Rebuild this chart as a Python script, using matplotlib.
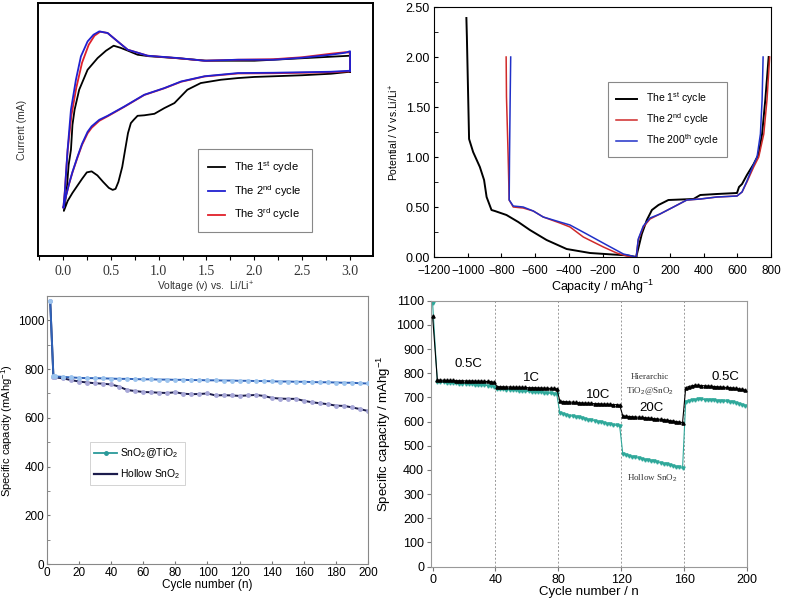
import matplotlib
matplotlib.use("Agg")
import matplotlib.pyplot as plt
from matplotlib.lines import Line2D
from matplotlib.ticker import MultipleLocator

plt.rcParams['font.family'] = ['Liberation Sans', 'DejaVu Sans']
plt.rcParams['mathtext.fontset'] = 'custom'
plt.rcParams['mathtext.rm'] = 'Liberation Sans'
plt.rcParams['mathtext.it'] = 'Liberation Sans:italic'

# ---- panel a : cyclic voltammetry (arbitrary current units) ----
v1 = [3.0, 2.8, 2.5, 2.0, 1.83, 1.65, 1.44, 1.3, 1.165, 1.06, 0.956, 0.85, 0.78, 0.74,
      0.71, 0.68, 0.65, 0.62, 0.58, 0.55, 0.52, 0.48, 0.42, 0.36, 0.3, 0.25, 0.2, 0.15,
      0.1, 0.05, 0.01,
      0.04, 0.06, 0.084, 0.1, 0.122, 0.17, 0.258, 0.363, 0.45, 0.53, 0.6, 0.68, 0.78,
      0.9, 1.2, 1.5, 2.0, 2.5, 2.9, 3.0, 3.0]
i1 = [0.78, 0.76, 0.745, 0.728, 0.717, 0.70, 0.667, 0.60, 0.467, 0.417, 0.36, 0.345,
      0.34, 0.30, 0.267, 0.167, 0.0, -0.17, -0.32, -0.39, -0.40, -0.38, -0.32, -0.255,
      -0.215, -0.225, -0.29, -0.36, -0.43, -0.51, -0.61,
      -0.40, -0.15, 0.0, 0.25, 0.4, 0.6, 0.8, 0.917, 0.99, 1.04, 1.02, 0.99, 0.95,
      0.935, 0.915, 0.89, 0.89, 0.915, 0.935, 0.94, 0.78]
v2 = [3.0, 2.8, 2.5, 2.2, 1.83, 1.48, 1.235, 1.06, 0.85, 0.642, 0.467, 0.38, 0.3,
      0.258, 0.2, 0.153, 0.1, 0.066, 0.03, 0.005,
      0.02, 0.035, 0.049, 0.084, 0.136, 0.188, 0.258, 0.32, 0.38, 0.467, 0.572, 0.677,
      0.886, 1.2, 1.48, 1.83, 2.2, 2.5, 2.8, 2.95, 3.0, 3.0]
i2 = [0.79, 0.78, 0.775, 0.77, 0.767, 0.735, 0.683, 0.617, 0.55, 0.433, 0.34, 0.30,
      0.235, 0.18, 0.06, -0.067, -0.22, -0.333, -0.47, -0.58,
      -0.42, -0.2, 0.0, 0.4, 0.7, 0.933, 1.083, 1.15, 1.183, 1.167, 1.083, 1.0,
      0.94, 0.917, 0.89, 0.9, 0.9, 0.92, 0.95, 0.97, 0.985, 0.79]
v3 = [3.0, 2.8, 2.5, 2.2, 1.83, 1.48, 1.235, 1.06, 0.85, 0.642, 0.467, 0.38, 0.3,
      0.258, 0.2, 0.153, 0.1, 0.066, 0.03, 0.005,
      0.02, 0.035, 0.05, 0.09, 0.14, 0.2, 0.27, 0.33, 0.39, 0.467, 0.572, 0.677,
      0.886, 1.2, 1.48, 1.83, 2.2, 2.5, 2.8, 2.95, 3.0, 3.0]
i3 = [0.785, 0.775, 0.77, 0.765, 0.763, 0.733, 0.68, 0.615, 0.548, 0.43, 0.335, 0.29,
      0.22, 0.165, 0.05, -0.075, -0.225, -0.335, -0.47, -0.58,
      -0.42, -0.2, 0.0, 0.35, 0.62, 0.87, 1.05, 1.14, 1.18, 1.167, 1.083, 1.0,
      0.94, 0.915, 0.89, 0.9, 0.905, 0.925, 0.96, 0.975, 0.97, 0.785]

# ---- panel b : charge / discharge profiles ----
cap_1d = [-1008, -1005, -992, -968, -928, -903, -888, -859, -839, -770, -700, -631,
          -532, -413, -274, -140, -56, 0]
pot_1d = [2.39, 2.2, 1.18, 1.05, 0.90, 0.77, 0.60, 0.47, 0.46, 0.42, 0.35, 0.27,
          0.17, 0.08, 0.04, 0.025, 0.017, 0.0]
cap_1c = [0, 33, 63, 93, 132, 191, 340, 380, 479, 598, 610, 628, 657, 697, 727, 747,
          766, 786]
pot_1c = [0.0, 0.23, 0.37, 0.47, 0.52, 0.57, 0.58, 0.62, 0.63, 0.64, 0.70, 0.73,
          0.82, 0.93, 1.03, 1.23, 1.57, 2.0]
cap_2d = [-772, -770, -760, -754, -730, -671, -611, -552, -453, -393, -314, -195,
          -116, -56, 0]
pot_2d = [2.0, 1.6, 1.0, 0.57, 0.50, 0.49, 0.46, 0.40, 0.34, 0.30, 0.20, 0.10,
          0.04, 0.01, 0.0]
cap_2c = [0, 12, 42, 82, 141, 221, 300, 380, 479, 598, 628, 657, 697, 727, 757, 776,
          792]
pot_2c = [0.0, 0.17, 0.30, 0.38, 0.43, 0.50, 0.57, 0.58, 0.60, 0.61, 0.65, 0.75,
          0.90, 1.00, 1.23, 1.57, 2.0]
cap_200d = [-745, -748, -752, -754, -730, -671, -611, -552, -453, -393, -294, -175,
            -76, 0]
pot_200d = [2.0, 1.6, 1.0, 0.57, 0.51, 0.50, 0.46, 0.40, 0.35, 0.32, 0.23, 0.12,
            0.03, 0.0]
cap_200c = [0, 12, 42, 82, 141, 221, 300, 380, 479, 598, 628, 657, 690, 717, 737,
            747, 753]
pot_200c = [0.0, 0.18, 0.31, 0.39, 0.43, 0.50, 0.57, 0.58, 0.60, 0.61, 0.65, 0.76,
            0.90, 1.00, 1.23, 1.57, 2.0]

# ---- panel c : cycling stability ----
cyc_c = [2, 4, 5, 10, 15, 20, 25, 30, 35, 40, 45, 50, 55, 60, 65, 70, 75, 80, 85, 90,
         95, 100, 105, 110, 115, 120, 125, 130, 135, 140, 145, 150, 155, 160, 165,
         170, 175, 180, 185, 190, 195, 200]
core_shell = [1080, 772, 770, 768, 766, 764, 763, 763, 762, 761, 760, 760, 759, 758,
              758, 757, 757, 756, 756, 755, 755, 754, 754, 753, 753, 752, 752, 751,
              751, 750, 749, 749, 748, 748, 747, 746, 746, 745, 744, 744, 742, 741]
hollow = [1080, 768, 766, 762, 755, 749, 745, 742, 740, 737, 728, 714, 710, 706, 705,
          703, 702, 705, 699, 697, 698, 700, 692, 693, 692, 690, 692, 694, 690, 682,
          679, 678, 678, 670, 664, 660, 656, 650, 649, 643, 636, 628]

# ---- panel d : rate capability ----
cyc_d = [0] + list(range(3, 40, 2)) + list(range(41, 200, 2))
hier = [1035,
        772, 771, 771, 770, 770, 770, 769, 769, 769, 768, 768, 768, 767, 767, 767, 766,
        766, 765, 762,
        745, 744, 744, 743, 743, 742, 742, 742, 741, 741, 740, 740, 740, 739, 739, 738,
        738, 737, 737, 735,
        684, 683, 682, 681, 680, 679, 678, 677, 676, 676, 675, 674, 674, 673, 672, 672,
        671, 670, 670, 668,
        623, 622, 621, 620, 619, 618, 617, 616, 615, 613, 612, 611, 609, 608, 606, 604,
        602, 600, 598, 596,
        740, 745, 748, 750, 750, 749, 748, 747, 746, 745, 744, 743, 742, 741, 740, 739,
        737, 735, 733, 730]
hollow_d = [1090,
            765, 763, 762, 761, 760, 759, 758, 757, 757, 756, 755, 754, 753, 752, 751,
            750, 749, 748, 745,
            735, 734, 733, 732, 731, 730, 729, 728, 727, 726, 725, 724, 723, 722, 721,
            720, 718, 717, 715, 712,
            634, 631, 628, 625, 622, 620, 617, 614, 611, 608, 606, 603, 600, 598, 595,
            592, 589, 587, 584, 581,
            466, 462, 458, 455, 452, 449, 446, 443, 441, 438, 435, 432, 429, 426, 423,
            420, 417, 414, 411, 407,
            683, 686, 689, 691, 692, 692, 691, 690, 689, 688, 687, 686, 685, 684, 683,
            681, 678, 674, 670, 666]
rate_x = [22.7, 63, 105.5, 139.5, 186]
rate_y = [838, 782, 710, 655, 786]
rate_txt = ['0.5C', '1C', '10C', '20C', '0.5C']

fig = plt.figure(figsize=(7.87, 6.04), dpi=100)

# panel a
ax1 = fig.add_axes([0.0483, 0.5762, 0.4257, 0.4189])
ax1.plot(v1, i1, color='black', lw=1.3, label='The 1$^{\\mathrm{st}}$ cycle')
ax1.plot(v3, i3, color='#e0202a', lw=1.3, label='The 3$^{\\mathrm{rd}}$ cycle')
ax1.plot(v2, i2, color='#2020d0', lw=1.3, label='The 2$^{\\mathrm{nd}}$ cycle')
ax1.set_xlim(-0.26, 3.24)
ax1.set_ylim(-1.06, 1.467)
ax1.set_yticks([])
ax1.xaxis.set_major_locator(MultipleLocator(0.5))
ax1.xaxis.set_minor_locator(MultipleLocator(0.25))
ax1.xaxis.set_major_formatter(matplotlib.ticker.FormatStrFormatter('%.1f'))
ax1.tick_params(axis='x', which='both', direction='out', length=3, width=0.8,
                labelcolor='#333333')
for lab in ax1.get_xticklabels():
    lab.set_fontfamily('Liberation Serif')
    lab.set_fontsize(10)
for s in ax1.spines.values():
    s.set_linewidth(1.4)
ax1.set_xlabel('Voltage (v) vs.  Li/Li$^{+}$', fontsize=7.5, color='#333333', labelpad=1)
ax1.set_ylabel('Current (mA)', fontsize=7.5, color='#333333', labelpad=8)
h, l = ax1.get_legend_handles_labels()
leg1 = ax1.legend([h[0], h[2], h[1]], [l[0], l[2], l[1]], loc='upper left',
                  bbox_to_anchor=(0.46, 0.443), fontsize=8, fancybox=False,
                  edgecolor='#888888', framealpha=1, handlelength=1.6,
                  borderpad=0.9, labelspacing=0.7)
leg1.get_frame().set_linewidth(0.8)

# panel b
ax2 = fig.add_axes([0.5515, 0.5745, 0.4282, 0.4139])
ax2.plot(cap_1d, pot_1d, color='black', lw=1.4, label='The 1$^{\\mathrm{st}}$ cycle')
ax2.plot(cap_2d, pot_2d, color='#d02a2a', lw=1.1, label='The 2$^{\\mathrm{nd}}$ cycle')
ax2.plot(cap_200d, pot_200d, color='#2030c8', lw=1.1, label='The 200$^{\\mathrm{th}}$ cycle')
ax2.plot(cap_1c, pot_1c, color='black', lw=1.4)
ax2.plot(cap_2c, pot_2c, color='#d02a2a', lw=1.1)
ax2.plot(cap_200c, pot_200c, color='#2030c8', lw=1.1)
ax2.set_xlim(-1200, 800)
ax2.set_ylim(0, 2.5)
ax2.xaxis.set_major_locator(MultipleLocator(200))
ax2.yaxis.set_major_locator(MultipleLocator(0.5))
ax2.yaxis.set_minor_locator(MultipleLocator(0.25))
ax2.yaxis.set_major_formatter(matplotlib.ticker.FormatStrFormatter('%.2f'))
ax2.tick_params(which='both', direction='in', length=3, labelsize=9, pad=3)
ax2.tick_params(axis='x', labelsize=8.5, pad=6)
ax2.set_xlabel('Capacity / mAhg$^{-1}$', fontsize=9, labelpad=0)
ax2.set_ylabel('Potential / V vs.Li/Li$^{+}$', fontsize=7.5, labelpad=3)
leg2 = ax2.legend(loc='upper left', bbox_to_anchor=(0.501, 0.72), fontsize=7.5,
                  fancybox=False, edgecolor='#888888', framealpha=1,
                  handlelength=2.0, borderpad=0.8, labelspacing=0.5)
leg2.get_frame().set_linewidth(0.8)

# panel c
ax3 = fig.add_axes([0.0597, 0.0662, 0.4079, 0.4437])
ax3.plot(cyc_c, core_shell, color='#2f62b8', lw=1.4, marker='o', ms=2.5,
         mfc='#9cc4ee', mec='#9cc4ee', zorder=3)
ax3.plot(cyc_c, hollow, color='#1c1c4c', lw=1.4, marker='o', ms=2.5,
         mfc='#a8a8d8', mec='#a8a8d8', zorder=2)
ax3.set_xlim(0, 200)
ax3.set_ylim(0, 1100)
ax3.xaxis.set_major_locator(MultipleLocator(20))
ax3.yaxis.set_major_locator(MultipleLocator(200))
ax3.yaxis.set_minor_locator(MultipleLocator(100))
ax3.tick_params(which='both', direction='in', length=2.5, labelsize=8.5, pad=2,
                color='#777777')
for s in ax3.spines.values():
    s.set_color('#888888')
ax3.set_xlabel('Cycle number (n)', fontsize=8.5, labelpad=0)
ax3.set_ylabel('Specific capacity (mAhg$^{-1}$)', fontsize=8)
ax3.yaxis.set_label_coords(-0.1, 0.5)
hnd3 = [Line2D([], [], color='#2a9a9a', lw=1.3, marker='o', ms=2.5),
        Line2D([], [], color='#1c1c4c', lw=1.6)]
leg3 = ax3.legend(hnd3, ['SnO$_2$@TiO$_2$', 'Hollow SnO$_2$'], loc='upper left',
                  bbox_to_anchor=(0.118, 0.474), fontsize=7.5, fancybox=False,
                  edgecolor='#cccccc', framealpha=1, handlelength=2.2,
                  borderpad=0.4, labelspacing=0.7, handletextpad=0.3)
leg3.get_frame().set_linewidth(0.6)

# panel d
ax4 = fig.add_axes([0.5477, 0.0618, 0.4015, 0.4404])
for xv in [40, 80, 120, 160]:
    ax4.axvline(xv, color='#999999', lw=0.7, ls=(0, (2, 2)), zorder=1)
ax4.plot(cyc_d, hollow_d, color='#2fa89a', lw=0.8, marker='v', ms=2.3, zorder=2)
ax4.plot(cyc_d, hier, color='black', lw=0.8, marker='^', ms=2.3, zorder=3)
for xt, yt, tt in zip(rate_x, rate_y, rate_txt):
    ax4.text(xt, yt, tt, fontsize=9.5, ha='center', va='center')
ax4.text(138, 786, 'Hierarchic', fontsize=6.5, ha='center', va='center',
         family='Liberation Serif', color='#333333')
ax4.text(138, 726, 'TiO$_2$@SnO$_2$', fontsize=6.5, ha='center', va='center',
         family='Liberation Serif', color='#333333')
ax4.text(139.5, 365, 'Hollow SnO$_2$', fontsize=6.5, ha='center', va='center',
         family='Liberation Serif', color='#333333')
ax4.set_xlim(-1, 200)
ax4.set_ylim(0, 1100)
ax4.xaxis.set_major_locator(MultipleLocator(40))
ax4.yaxis.set_major_locator(MultipleLocator(100))
ax4.tick_params(which='both', direction='out', length=3, labelsize=9, pad=2,
                color='#777777')
for s in ax4.spines.values():
    s.set_color('#999999')
ax4.set_xlabel('Cycle number / n', fontsize=9.5, labelpad=0)
ax4.set_ylabel('Specific capacity / mAhg$^{-1}$', fontsize=9.5, labelpad=2)

fig.savefig('out.png', dpi=100)
